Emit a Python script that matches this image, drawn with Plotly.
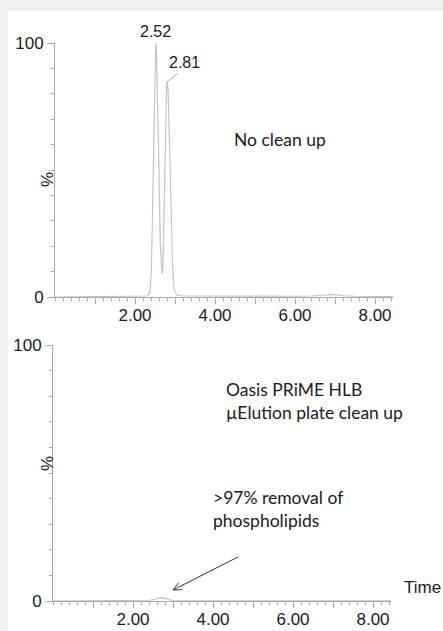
import plotly.graph_objects as go

W, H = 443, 631

# ---- data ----
TIME_TOP = [0.00, 1.00, 2.00, 2.30, 2.37, 2.41, 2.44, 2.47, 2.50, 2.52, 2.54, 2.57, 2.60, 2.63,
            2.66, 2.68, 2.70, 2.73, 2.76, 2.79, 2.81, 2.83, 2.86, 2.90, 2.94, 2.98, 3.04, 3.20,
            4.00, 5.00, 6.00, 6.40, 6.70, 6.85, 6.95, 7.05, 7.20, 7.50, 8.00, 8.45]
PCT_TOP = [0.0, 0.1, 0.2, 0.4, 1.5, 10, 35, 62, 94, 100, 96, 78, 50, 22,
           11, 9, 13, 40, 70, 83, 85, 80, 62, 34, 12, 3, 0.8, 0.4,
           0.3, 0.2, 0.3, 0.4, 0.5, 0.8, 1.0, 0.8, 0.5, 0.3, 0.2, 0.2]

TIME_BOT = [0.00, 1.00, 2.00, 2.40, 2.55, 2.62, 2.70, 2.78, 2.88, 3.00, 4.00, 6.00, 8.45]
PCT_BOT = [0.0, 0.1, 0.2, 0.3, 0.6, 1.1, 1.3, 1.0, 0.4, 0.2, 0.1, 0.1, 0.1]

PEAK_LABELS = ["2.52", "2.81"]
PEAK_TIMES = [2.52, 2.81]
X_MAJOR = [1, 2, 3, 4, 5, 6, 7, 8]
X_LABELS = ["", "2.00", "", "4.00", "", "6.00", "", "8.00"]
Y_MAJOR = [0, 100]
Y_LABELS = ["0", "100"]
X_RANGE = [0, 8.45]

LINE = "#c4c4c4"
AXIS = "#a8a8a8"
TICKFONT = dict(family="Liberation Sans, Arial", size=17, color="#1a1a1a")
TXTFONT = dict(family="Lato, Open Sans", size=17.5, color="#1a1a1a")


def px_x(p):
    return p / W


def px_y(p):
    return 1 - p / H


fig = go.Figure()
fig.add_trace(go.Scatter(x=TIME_TOP, y=PCT_TOP, mode="lines", xaxis="x", yaxis="y",
                         line=dict(color=LINE, width=1.2), showlegend=False, hoverinfo="skip"))
fig.add_trace(go.Scatter(x=TIME_BOT, y=PCT_BOT, mode="lines", xaxis="x2", yaxis="y2",
                         line=dict(color=LINE, width=1.2), showlegend=False, hoverinfo="skip"))

xcommon = dict(range=X_RANGE, tickmode="array", tickvals=X_MAJOR, ticktext=X_LABELS,
               ticks="outside", ticklen=6, tickcolor=AXIS, tickwidth=1,
               showline=True, linecolor=AXIS, linewidth=1, showgrid=False, zeroline=False,
               tickfont=TICKFONT, automargin=False, fixedrange=True, ticklabelstandoff=-3,
               minor=dict(dtick=0.2, tick0=0, ticks="outside", ticklen=3, tickcolor=AXIS,
                          showgrid=False))
ycommon = dict(range=[0, 100], tickmode="array", tickvals=Y_MAJOR, ticktext=Y_LABELS,
               ticks="outside", ticklen=7, tickcolor=AXIS, tickwidth=1,
               showline=True, linecolor=AXIS, linewidth=1, showgrid=False, zeroline=False,
               tickfont=TICKFONT, automargin=False, fixedrange=True,
               minor=dict(dtick=10, tick0=0, ticks="outside", ticklen=3, tickcolor=AXIS,
                          showgrid=False))

# open "V" arrow (pixel offsets from the tip, tip anchored on the bottom trace's bump)
ARROW_TIP = (3.0, 4.3)
tail = (65, 33)
head_a = (5.6, 7.1)
head_b = (9.0, 0.3)


def pix_line(dx1, dy1):
    return dict(type="line", xref="x2", yref="y2", xsizemode="pixel", ysizemode="pixel",
                xanchor=ARROW_TIP[0], yanchor=ARROW_TIP[1], x0=0, y0=0, x1=dx1, y1=dy1,
                line=dict(color="#333333", width=1))


fig.update_layout(
    width=W, height=H,
    margin=dict(l=0, r=0, t=0, b=0),
    paper_bgcolor="#ecf0f3",
    plot_bgcolor="rgba(0,0,0,0)",
    xaxis=dict(domain=[px_x(55), px_x(393)], anchor="y", **xcommon),
    yaxis=dict(domain=[px_y(297), px_y(43)], anchor="x", **ycommon),
    xaxis2=dict(domain=[px_x(53), px_x(391)], anchor="y2", **xcommon),
    yaxis2=dict(domain=[px_y(601), px_y(345)], anchor="x2", **ycommon),
    shapes=[
        dict(type="rect", xref="paper", yref="paper", x0=px_x(8), x1=1.0, y0=0, y1=px_y(11),
             fillcolor="white", line=dict(width=0), layer="below"),
        # leader line for second peak label
        dict(type="line", xref="x", yref="y", x0=PEAK_TIMES[1] - 0.02, y0=PCT_TOP[20] - 0.5,
             x1=PEAK_TIMES[1] + 0.26, y1=PCT_TOP[20] + 3,
             line=dict(color=AXIS, width=1)),
        pix_line(*tail),
        pix_line(*head_a),
        pix_line(*head_b),
    ],
)

ann = []
# peak labels
ann.append(dict(x=PEAK_TIMES[0], y=PCT_TOP[9], xref="x", yref="y", text=PEAK_LABELS[0],
                showarrow=False, yanchor="bottom", yshift=1,
                font=dict(family="Liberation Sans, Arial", size=16, color="#1a1a1a")))
ann.append(dict(x=PEAK_TIMES[1] + 0.42, y=PCT_TOP[20] + 3, xref="x", yref="y", text=PEAK_LABELS[1],
                showarrow=False, yanchor="bottom", yshift=0,
                font=dict(family="Liberation Sans, Arial", size=16, color="#1a1a1a")))
# percent labels
for yc in (170, 473):
    ann.append(dict(x=px_x(36), y=px_y(yc), xref="paper", yref="paper", text="%",
                    showarrow=False, textangle=-90,
                    font=dict(family="Liberation Sans, Arial", size=17, color="#1a1a1a")))
# texts
ann.append(dict(x=px_x(232), y=px_y(127), xref="paper", yref="paper", text="No clean up",
                showarrow=False, xanchor="left", font=TXTFONT))
ann.append(dict(x=px_x(224), y=px_y(401), xref="paper", yref="paper",
                text="Oasis PRiME HLB<br>µElution plate clean up",
                showarrow=False, xanchor="left", align="left", font=TXTFONT))
ann.append(dict(x=px_x(211), y=px_y(533), xref="paper", yref="paper",
                text="&gt;97% removal of<br>phospholipids",
                showarrow=False, xanchor="left", align="left", font=TXTFONT))
ann.append(dict(x=px_x(402), y=px_y(599), xref="paper", yref="paper", text="Time",
                showarrow=False, xanchor="left",
                font=dict(family="Liberation Sans, Arial", size=17, color="#1a1a1a")))
fig.update_layout(annotations=ann)

fig.write_html("out.html")
